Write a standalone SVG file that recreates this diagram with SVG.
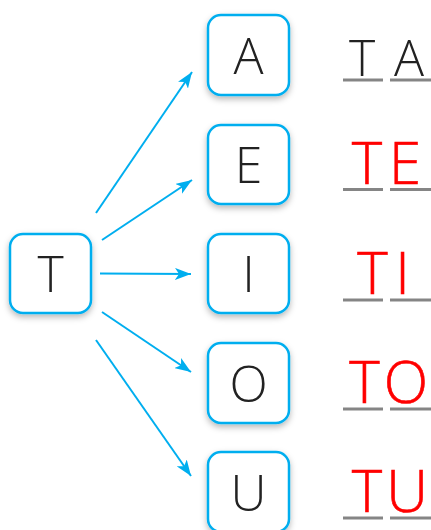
<svg xmlns="http://www.w3.org/2000/svg" width="431" height="530" viewBox="0 0 431 530">
<defs>
<filter id="sh" x="-30%" y="-30%" width="160%" height="160%">
<feDropShadow dx="0" dy="3" stdDeviation="3" flood-color="#000" flood-opacity="0.28"/>
</filter>
<marker id="ah" viewBox="0 0 16 12" refX="16" refY="6" markerWidth="16" markerHeight="12" markerUnits="userSpaceOnUse" orient="auto">
<path d="M0,0 L16,6 L0,12 L4,6 Z" fill="#00aeef"/>
</marker>
</defs>
<style>
.box{fill:#fff;stroke:#00aeef;stroke-width:2.5;filter:url(#sh)}
.lt{font-family:"Open Sans",sans-serif;font-weight:300;font-size:50px;fill:#222;text-anchor:middle}
.rd{font-family:"Open Sans",sans-serif;font-weight:300;font-size:58px;fill:#f00;stroke:#f00;stroke-width:0.6;text-anchor:middle}
.bk{font-family:"Open Sans",sans-serif;font-weight:300;font-size:50px;fill:#222;text-anchor:middle}
.ul{stroke:#858585;stroke-width:3}
.cn{stroke:#00aeef;stroke-width:2;fill:none;marker-end:url(#ah)}
</style>
<g id="connectors">
<line class="cn" x1="96" y1="213" x2="192" y2="72"/>
<line class="cn" x1="102" y1="240" x2="192" y2="180"/>
<line class="cn" x1="100" y1="273.5" x2="191" y2="274"/>
<line class="cn" x1="102" y1="312" x2="191" y2="372"/>
<line class="cn" x1="96" y1="340" x2="191" y2="476"/>
</g>
<g id="node-T"><rect class="box" x="10" y="234" width="81" height="79" rx="13"/><text class="lt" x="50.5" y="292">T</text></g>
<g id="node-A"><rect class="box" x="208" y="15" width="81" height="80" rx="13"/><text class="lt" x="248.5" y="74">A</text></g>
<g id="node-E"><rect class="box" x="208" y="125" width="81" height="79" rx="13"/><text class="lt" x="248.5" y="183">E</text></g>
<g id="node-I"><rect class="box" x="208" y="234" width="81" height="79" rx="13"/><text class="lt" x="248.5" y="292">I</text></g>
<g id="node-O"><rect class="box" x="208" y="343" width="81" height="80" rx="13"/><text class="lt" x="248.5" y="402">O</text></g>
<g id="node-U"><rect class="box" x="208" y="452" width="81" height="80" rx="13"/><text class="lt" x="248.5" y="511">U</text></g>
<g id="answers">
<line class="ul" x1="343" y1="80" x2="383" y2="80"/><line class="ul" x1="390" y1="80" x2="431" y2="80"/>
<text class="bk" x="362" y="76">T</text><text class="bk" x="409" y="76">A</text>
<line class="ul" x1="343" y1="189.5" x2="383" y2="189.5"/><line class="ul" x1="390" y1="189.5" x2="431" y2="189.5"/>
<text class="rd" x="367" y="184">T</text><text class="rd" x="405" y="184">E</text>
<line class="ul" x1="343" y1="300" x2="383" y2="300"/><line class="ul" x1="390" y1="300" x2="431" y2="300"/>
<text class="rd" x="372.5" y="294">T</text><text class="rd" x="402.5" y="294">I</text>
<line class="ul" x1="343" y1="409" x2="383" y2="409"/><line class="ul" x1="390" y1="409" x2="431" y2="409"/>
<text class="rd" x="364.5" y="403">T</text><text class="rd" x="406" y="403">O</text>
<line class="ul" x1="343" y1="518" x2="383" y2="518"/><line class="ul" x1="390" y1="518" x2="431" y2="518"/>
<text class="rd" x="367" y="512">T</text><text class="rd" x="407" y="512">U</text>
</g>
</svg>
